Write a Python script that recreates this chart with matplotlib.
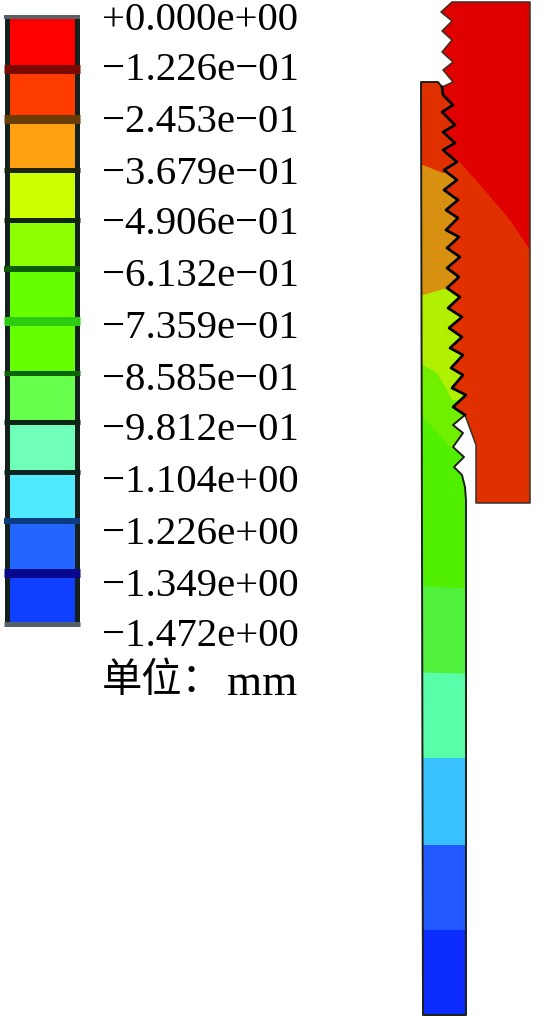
import matplotlib
matplotlib.use('Agg')
import matplotlib.pyplot as plt
from matplotlib.patches import Polygon

# legend
level_labels = ['+0.000e+00', '\u22121.226e\u221201', '\u22122.453e\u221201', '\u22123.679e\u221201',
                '\u22124.906e\u221201', '\u22126.132e\u221201', '\u22127.359e\u221201', '\u22128.585e\u221201',
                '\u22129.812e\u221201', '\u22121.104e+00', '\u22121.226e+00', '\u22121.349e+00', '\u22121.472e+00']
label_y = [17, 68, 119, 171, 221, 273, 325, 377, 428, 480, 531, 583, 634]
unit_cn = '单位：'
unit_en = 'mm'

bar_edges = [17, 69, 119, 170, 220, 269, 321, 373, 422, 472, 521, 573, 624]
bar_colors = ['#ff0000', '#ff3c00', '#ffa010', '#ccff00', '#8cff00', '#66ff00',
              '#66ff00', '#66ff4c', '#70ffb8', '#50eaff', '#2266ff', '#1040ff']
sep_colors = ['#5a6068', '#7a0a00', '#6a3c08', '#1c2410', '#10240c', '#0e5c06', '#2ccc10',
              '#0c6408', '#0c2418', '#0c2420', '#0c3c80', '#08088c', '#50606c']
sep_widths = [4, 9, 9, 5, 5, 6, 9, 5, 5, 5, 6, 9, 5]

# thread contact line, top to bottom, pixels
thread_x = [442, 443, 453, 442, 455, 443, 455, 443, 457, 444, 457, 444, 458, 446, 458, 446,
            459, 447, 460, 447, 459, 447, 460, 448, 462, 449, 462, 450, 463, 451, 463, 452, 466, 453, 465]
thread_y = [87, 95, 105, 112, 125, 132, 143, 150, 162, 170, 180, 190, 200, 210, 218, 230,
            237, 248, 257, 268, 277, 288, 297, 308, 317, 328, 337, 348, 355, 368, 375, 388, 395, 407, 415]

# free parts of the outlines
box_top_x = [441, 452, 530, 530, 476, 476]
box_top_y = [12, 2, 2, 503, 503, 445]
box_free_x = [453, 443, 453, 442, 452, 442, 452]
box_free_y = [82, 70, 62, 52, 40, 31, 21]

pin_top_x = [421, 438]
pin_top_y = [82, 82]
pin_free_x = [453, 463, 453, 464, 454, 462, 465, 466, 466, 423]
pin_free_y = [425, 433, 447, 457, 467, 475, 487, 500, 1015, 1015]

box_x = box_top_x + thread_x[::-1] + box_free_x
box_y = box_top_y + thread_y[::-1] + box_free_y
pin_x = pin_top_x + thread_x + pin_free_x
pin_y = pin_top_y + thread_y + pin_free_y

# contour regions, first one is the background of each part
box_bands_x = [[400, 560, 560, 400], [400, 460, 487, 510, 530, 560, 560, 400]]
box_bands_y = [[0, 0, 520, 520], [150, 162, 193, 220, 250, 250, 0, 0]]
box_band_colors = ['#e03000', '#e00000']

pin_bands_x = [[400, 480, 480, 400], [400, 423, 443, 480, 480, 400], [400, 423, 447, 480, 480, 400],
               [400, 423, 437, 447, 452, 480, 480, 400], [400, 423, 437, 452, 480, 480, 400],
               [400, 480, 480, 400], [400, 480, 480, 400], [400, 480, 480, 400],
               [400, 480, 480, 400], [400, 480, 480, 400]]
pin_bands_y = [[70, 70, 180, 180], [165, 165, 173, 173, 300, 300], [295, 295, 288, 288, 410, 410],
               [362, 365, 373, 390, 400, 400, 600, 600], [417, 417, 432, 450, 450, 600, 600],
               [585, 589, 680, 680], [672, 674, 760, 760], [758, 758, 850, 850],
               [845, 845, 935, 935], [930, 930, 1015, 1015]]
pin_band_colors = ['#e03000', '#d89010', '#b0f000', '#70f000', '#50f000',
                   '#50f03c', '#58ffa8', '#38c0ff', '#2258ff', '#0c2cff']

plt.rcParams['font.family'] = ['Liberation Serif', 'Noto Sans CJK SC']

fig = plt.figure(figsize=(5.56, 10.16), dpi=100)
ax = fig.add_axes([0, 0, 1, 1])
ax.set_xlim(0, 556)
ax.set_ylim(1016, 0)
ax.axis('off')

# color bar
for i, c in enumerate(bar_colors):
    ax.bar(41.5, bar_edges[i + 1] - bar_edges[i], width=74, bottom=bar_edges[i], color=c, zorder=1)
ax.plot([6.5, 6.5], [bar_edges[0], bar_edges[-1]], color='#14201c', lw=3.6, solid_capstyle='butt', zorder=2)
ax.plot([76.5, 76.5], [bar_edges[0], bar_edges[-1]], color='#14201c', lw=3.6, solid_capstyle='butt', zorder=2)
for y, c, w in zip(bar_edges, sep_colors, sep_widths):
    ax.plot([4, 80], [y, y], color=c, lw=w * 0.72, solid_capstyle='butt', zorder=3)

for y, t in zip(label_y, level_labels):
    ax.text(102, y + 3, t, fontsize=29.4, ha='left', va='center', color='#000000')
ax.text(102, 682, unit_cn, fontsize=29, ha='left', va='center', color='#000000')
ax.text(227, 695, unit_en, fontsize=32.5, ha='left', va='baseline', color='#000000')

# parts
box_outline = Polygon(list(zip(box_x, box_y)), closed=True, facecolor='none', edgecolor='none')
pin_outline = Polygon(list(zip(pin_x, pin_y)), closed=True, facecolor='none', edgecolor='none')
ax.add_patch(box_outline)
ax.add_patch(pin_outline)

for xs, ys, c in zip(box_bands_x, box_bands_y, box_band_colors):
    p = ax.fill(xs, ys, color=c, lw=0, zorder=4)[0]
    p.set_clip_path(box_outline)
for xs, ys, c in zip(pin_bands_x, pin_bands_y, pin_band_colors):
    p = ax.fill(xs, ys, color=c, lw=0, zorder=5)[0]
    p.set_clip_path(pin_outline)

ax.fill(box_x, box_y, facecolor='none', edgecolor='#3a3028', lw=1.1, joinstyle='round', zorder=6)
ax.fill(pin_x, pin_y, facecolor='none', edgecolor='#1c2018', lw=1.4, joinstyle='round', zorder=7)
ax.plot(thread_x, thread_y, color='#000000', lw=1.9, solid_joinstyle='round', zorder=8)

fig.savefig('out.png', dpi=100)
